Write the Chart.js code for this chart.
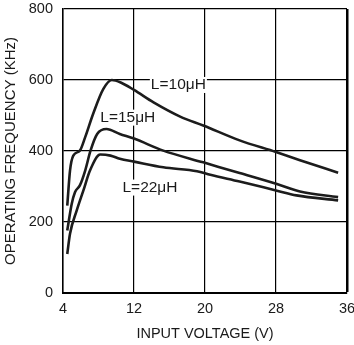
<!DOCTYPE html>
<html>
<head>
<meta charset="utf-8">
<script src="https://cdn.jsdelivr.net/npm/chart.js@4/dist/chart.umd.min.js"></script>
<style>
    body { margin: 0; background: #fff; }
    #wrap { width: 354px; height: 345px; }
</style>
</head>
<body>
<div id="wrap"><canvas id="freqChart" width="354" height="345"></canvas></div>
<script>
// Input voltage (V) and operating frequency (kHz) for each inductor value
const v10 = [4.48, 4.79, 5.16, 5.9, 6.5, 7.4, 8.55, 9.5, 10.5, 12, 14.2, 17.2, 19.8, 23.9, 28, 30.7, 35];
const f10 = [246, 345, 387, 401, 439, 505, 575, 600, 593, 572, 537, 497, 472, 430, 397, 374, 339];

const v15 = [4.48, 4.98, 5.35, 5.9, 6.5, 7.1, 7.85, 8.9, 10.4, 12, 15.3, 19.8, 23.9, 28.1, 30.7, 35];
const f15 = [176, 251, 284, 303, 345, 401, 448, 462, 448, 435, 401, 368, 338, 307, 286, 270];

const v22 = [4.48, 4.79, 5.54, 6.3, 7.04, 8.2, 9.35, 10.4, 12, 15.3, 19.1, 20.6, 23.9, 28, 30.3, 35];
const f22 = [110, 167, 232, 289, 345, 390, 387, 378, 370, 354, 343, 333, 314, 289, 275, 261];

const curveNames = ['L=10\u03bcH', 'L=15\u03bcH', 'L=22\u03bcH'];
// label anchors in data units (V, kHz)
const labelV = [17.0, 11.3, 13.8];
const labelF = [586, 494, 297];

const xTicks = [4, 12, 20, 28, 36];
const yTicks = [0, 200, 400, 600, 800];

function toPoints(xs, ys) {
    return xs.map((x, i) => ({ x: x, y: ys[i] }));
}

function lineSet(name, xs, ys) {
    return {
        label: name,
        data: toPoints(xs, ys),
        borderColor: '#1c1c1c',
        borderWidth: 2.6,
        pointRadius: 0,
        fill: false,
        cubicInterpolationMode: 'monotone'
    };
}

// Curve name labels with white background
const curveLabels = {
    id: 'curveLabels',
    beforeDatasetsDraw(chart) {
        const ctx = chart.ctx;
        const xs = chart.scales.x;
        const ys = chart.scales.y;
        ctx.save();
        ctx.font = '15.5px "Liberation Sans", Arial, sans-serif';
        ctx.textAlign = 'center';
        ctx.textBaseline = 'middle';
        curveNames.forEach((name, i) => {
            const px = xs.getPixelForValue(labelV[i]);
            const py = ys.getPixelForValue(labelF[i]);
            const w = ctx.measureText(name).width;
            ctx.fillStyle = '#fff';
            ctx.fillRect(px - w / 2 - 1, py - 8, w + 2, 16);
            ctx.fillStyle = '#1a1a1a';
            ctx.fillText(name, px, py);
        });
        ctx.restore();
    }
};

const fontFamily = '"Liberation Sans", Arial, sans-serif';
const tickFont = { family: fontFamily, size: 14.5 };

const freqCtx = document.getElementById('freqChart').getContext('2d');
const freqChart = new Chart(freqCtx, {
    type: 'line',
    data: {
        datasets: [
            lineSet(curveNames[0], v10, f10),
            lineSet(curveNames[1], v15, f15),
            lineSet(curveNames[2], v22, f22)
        ]
    },
    options: {
        responsive: false,
        animation: false,
        layout: { padding: { top: 9, right: 7, left: 0, bottom: 0 } },
        plugins: {
            legend: { display: false },
            tooltip: { enabled: false }
        },
        scales: {
            x: {
                type: 'linear',
                min: 4,
                max: 36,
                afterBuildTicks: (scale) => { scale.ticks = xTicks.map(v => ({ value: v })); },
                afterFit: (scale) => {
                    scale.height = 52;
                    scale.paddingLeft = 0;
                    scale.paddingRight = 0;
                },
                ticks: { color: '#1a1a1a', font: tickFont, padding: 7 },
                grid: {
                    color: '#000',
                    lineWidth: (c) => (c.tick && c.tick.value === 36 ? 2.5 : 1.2),
                    drawTicks: false
                },
                border: { color: '#000', width: 2 },
                title: {
                    display: true,
                    text: 'INPUT VOLTAGE (V)',
                    color: '#1a1a1a',
                    font: { family: fontFamily, size: 14.5 },
                    padding: { top: 0, bottom: 2 }
                }
            },
            y: {
                type: 'linear',
                min: 0,
                max: 800,
                afterBuildTicks: (scale) => { scale.ticks = yTicks.map(v => ({ value: v })); },
                afterFit: (scale) => {
                    scale.width = 63;
                    scale.paddingTop = 0;
                    scale.paddingBottom = 0;
                },
                ticks: { color: '#1a1a1a', font: tickFont, padding: 10 },
                grid: {
                    color: '#000',
                    lineWidth: 1.2,
                    drawTicks: false
                },
                border: { color: '#000', width: 1.5 },
                title: {
                    display: true,
                    text: 'OPERATING FREQUENCY (KHz)',
                    color: '#1a1a1a',
                    font: { family: fontFamily, size: 15 },
                    padding: { top: 2, bottom: 0 }
                }
            }
        }
    },
    plugins: [curveLabels]
});
</script>
</body>
</html>
